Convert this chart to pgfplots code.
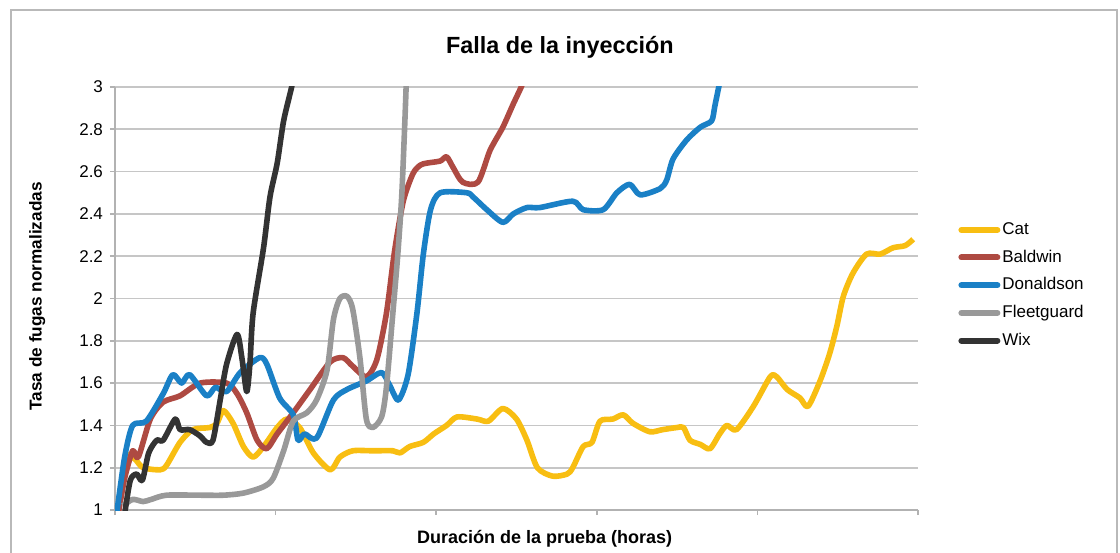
\documentclass[border=0pt]{standalone}
\usepackage{pgfplots}
\pgfplotsset{compat=1.18}
\usepackage{fontspec}
\setmainfont{Liberation Sans}

\definecolor{catc}{HTML}{F8BE12}
\definecolor{baldc}{HTML}{AE4A42}
\definecolor{donc}{HTML}{1A80C6}
\definecolor{fleetc}{HTML}{999999}
\definecolor{wixc}{HTML}{333333}

\begin{document}
\begin{tikzpicture}
\path[use as bounding box] (-57.5pt,-21pt) rectangle (502.5pt,255pt);
\draw[gray!55, line width=1pt] (-52pt,-30pt) rectangle (501pt,250pt);
\begin{axis}[
  scale only axis, width=401.5pt, height=211.5pt,
  xmin=0, xmax=100, ymin=1, ymax=3,
  axis x line*=bottom, axis y line*=left,
  axis line style={-, draw=gray!60, line width=0.8pt},
  xtick={0,20,...,100}, xticklabels={},
  ytick={1,1.2,1.4,1.6,1.8,2,2.2,2.4,2.6,2.8,3},
  tick align=outside, major tick length=2.5pt,
  tick style={gray!60, line width=0.8pt},
  yticklabel style={/pgf/number format/fixed, /pgf/number format/assume math mode=true,
    font=\fontsize{8.5}{10}\selectfont},
  ymajorgrids, grid style={gray!45, line width=0.8pt},
  title={Falla de la inyección},
  title style={at={(axis description cs:0.554,1.066)}, anchor=center,
    font=\bfseries\fontsize{11.7}{14}\selectfont},
  xlabel={Duración de la prueba (horas)},
  xlabel style={at={(axis description cs:0.535,-0.068)}, anchor=center,
    font=\bfseries\fontsize{9}{11}\selectfont},
  ylabel={Tasa de fugas normalizadas},
  ylabel style={at={(axis description cs:-0.097,0.505)}, anchor=center,
    font=\bfseries\fontsize{8.6}{10}\selectfont},
  legend style={at={(1.0498,0.69)}, anchor=north west, draw=none, fill=none,
    font=\fontsize{8.5}{10}\selectfont, row sep=2.2pt, inner sep=0pt,
    nodes={inner xsep=1pt}},
  legend cell align=left,
  legend image code/.code={\draw[#1, line width=3pt, line cap=round] (0pt,0pt) -- (18pt,0pt);},
  every axis plot/.append style={line width=2.8pt, smooth, tension=0.45, line join=round},
]
% Cat
\addplot[catc] coordinates {
(1.2,1.27) (2.5,1.24) (3.5,1.20) (5.6,1.19) (6.4,1.21) (8.1,1.32) (9.7,1.38)
(11.8,1.39) (12.7,1.41) (13.5,1.47) (14.7,1.41) (16,1.30) (17.2,1.25) (18.5,1.30)
(20.2,1.39) (21.4,1.43) (23,1.39) (24.7,1.27) (26.8,1.19) (28,1.25) (29.6,1.28)
(32.1,1.28) (34.6,1.28) (35.5,1.27) (36.7,1.30) (38.4,1.32) (39.7,1.36) (41.3,1.40)
(42.6,1.44) (45.1,1.43) (46.5,1.42) (48.3,1.48) (50,1.43) (51.3,1.33) (52.6,1.20)
(54.5,1.16) (56.3,1.17) (57,1.20) (58.3,1.30) (59.4,1.32) (60.4,1.42) (62,1.43)
(63.3,1.45) (64.5,1.41) (66.6,1.37) (68.2,1.38) (70,1.39) (70.8,1.39) (71.6,1.33)
(72.9,1.31) (74.1,1.29) (75.3,1.36) (76.2,1.40) (77.4,1.38) (79.5,1.49) (81.6,1.63)
(82.4,1.63) (83.7,1.57) (85.3,1.53) (86.3,1.49) (87.8,1.61) (89,1.74) (89.9,1.87)
(90.7,2.01) (91.9,2.12) (93.6,2.21) (95.3,2.21) (96.9,2.24) (98.4,2.25) (99.4,2.28)
};
\addlegendentry{Cat}
% Baldwin
\addplot[baldc] coordinates {
(0.4,0.98) (1.2,1.15) (2.2,1.28) (2.9,1.25) (4.4,1.43) (6,1.51) (8.1,1.54)
(10.6,1.60) (13.9,1.60) (15.2,1.55) (16.4,1.46) (17.7,1.33) (18.9,1.29) (20.2,1.36)
(22.2,1.46) (24.3,1.57) (26.8,1.70) (28.4,1.72) (29.6,1.68) (31.3,1.63) (32.6,1.71)
(33.8,1.93) (34.8,2.22) (35.9,2.46) (37.1,2.59) (38.0,2.63) (38.8,2.64) (40.5,2.65)
(41.3,2.67) (42.1,2.62) (43.3,2.55) (45.2,2.55) (46.7,2.70) (48.3,2.81) (49.6,2.92)
(50.7,3.01) (51.5,3.1)
};
\addlegendentry{Baldwin}
% Donaldson
\addplot[donc] coordinates {
(0.2,0.98) (1.2,1.25) (2.2,1.40) (3.9,1.42) (6,1.55) (7.2,1.64) (8.3,1.60)
(9.3,1.64) (11.4,1.54) (12.5,1.58) (13.9,1.56) (15.6,1.65) (18,1.72) (18.9,1.69)
(20.5,1.53) (22.2,1.45) (22.8,1.33) (23.6,1.36) (25.1,1.34) (27.2,1.52) (28.9,1.57)
(31.3,1.61) (33.2,1.65) (34.2,1.59) (35.3,1.52) (36.5,1.64) (37.6,1.93) (38.4,2.21)
(39.3,2.42) (40.5,2.50) (43.8,2.50) (44.6,2.48) (46.3,2.42) (48.3,2.36) (49.6,2.40)
(51.3,2.43) (52.9,2.43) (57,2.46) (58.3,2.42) (60.8,2.42) (62.5,2.50) (64.1,2.54)
(65.4,2.49) (67.9,2.52) (68.7,2.56) (69.5,2.66) (71.2,2.75) (72.9,2.81) (74.3,2.84)
(74.7,2.91) (75.3,3.02) (75.8,3.1)
};
\addlegendentry{Donaldson}
% Fleetguard
\addplot[fleetc] coordinates {
(1.0,1.02) (2.2,1.05) (3.5,1.04) (4.5,1.05) (6.4,1.07) (10.6,1.07) (13.5,1.07)
(16,1.08) (18.5,1.11) (19.7,1.15) (21,1.28) (22.2,1.42) (23.9,1.46) (25.1,1.52)
(26.4,1.66) (27.2,1.90) (28,2.00) (28.9,2.01) (29.6,1.95) (30.5,1.72) (31.3,1.43)
(32.1,1.39) (33.2,1.44) (33.8,1.58) (34.6,1.93) (35.2,2.20) (35.7,2.48) (36.1,2.84)
(36.3,3.05)
};
\addlegendentry{Fleetguard}
% Wix
\addplot[wixc] coordinates {
(1.2,0.98) (1.9,1.14) (2.7,1.17) (3.4,1.14) (4.2,1.27) (5.2,1.33) (6,1.33)
(7.5,1.43) (8.1,1.38) (9.3,1.38) (10.6,1.35) (11.4,1.32) (12.2,1.33) (13.1,1.52)
(13.9,1.69) (15.2,1.83) (15.8,1.72) (16.4,1.56) (16.8,1.69) (17.2,1.93) (18.5,2.24)
(19.3,2.48) (20.2,2.64) (21,2.84) (22,3.0) (22.5,3.1)
};
\addlegendentry{Wix}
\end{axis}
\end{tikzpicture}
\end{document}
